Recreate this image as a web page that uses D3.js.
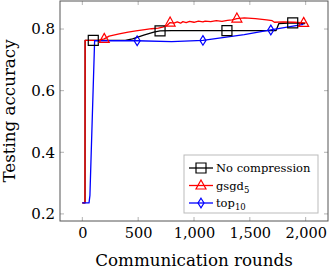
<!DOCTYPE html>
<html>
<head>
<meta charset="utf-8">
<script src="https://cdn.jsdelivr.net/npm/d3@7"></script>
<style>
  body { margin: 0; background: #fff; }
  text { font-family: "DejaVu Serif", "Liberation Serif", serif; fill: #000; }
</style>
</head>
<body>
<svg id="chart" width="332" height="271"></svg>
<script>
// rounds / accuracy
const noCompRounds = [0, 24, 25, 98, 384, 450, 550, 640, 696, 800, 1000, 1295, 1500, 1735, 1760, 1884, 1995];
const noCompAcc    = [0.236, 0.236, 0.763, 0.763, 0.763, 0.768, 0.780, 0.790, 0.794, 0.795, 0.795, 0.795, 0.795, 0.795, 0.818, 0.820, 0.818];
const noCompMarks  = [98, 696, 1295, 1884];

const gsgdRounds = [0, 24, 25, 100, 150, 196, 240, 330, 410, 480, 560, 620, 680, 720, 760, 786, 820, 850, 880, 900, 930, 960, 1000, 1040, 1080, 1100, 1150, 1200, 1250, 1300, 1340, 1384, 1450, 1550, 1650, 1700, 1720, 1800, 1900, 1982, 2000];
const gsgdAcc    = [0.236, 0.236, 0.763, 0.763, 0.764, 0.768, 0.777, 0.784, 0.790, 0.794, 0.798, 0.801, 0.803, 0.806, 0.812, 0.821, 0.819, 0.823, 0.819, 0.824, 0.821, 0.825, 0.822, 0.826, 0.823, 0.826, 0.824, 0.827, 0.825, 0.828, 0.830, 0.834, 0.836, 0.834, 0.830, 0.827, 0.822, 0.823, 0.822, 0.820, 0.820];
const gsgdMarks  = [196, 786, 1384, 1982];

const topRounds = [0, 60, 68, 110, 491, 800, 1080, 1450, 1688, 1980];
const topAcc    = [0.236, 0.236, 0.26, 0.762, 0.762, 0.759, 0.763, 0.782, 0.797, 0.815];
const topMarks  = [491, 1080, 1688];

const xTicks = [0, 500, 1000, 1500, 2000];
const yTicks = [0.2, 0.4, 0.6, 0.8];

const series = [
  { name: "No compression", rounds: noCompRounds, acc: noCompAcc, marks: noCompMarks, color: "#000000", symbol: "square" },
  { name: "gsgd", sub: "5", rounds: gsgdRounds, acc: gsgdAcc, marks: gsgdMarks, color: "#ff0000", symbol: "triangle" },
  { name: "top", sub: "10", rounds: topRounds, acc: topAcc, marks: topMarks, color: "#0000ff", symbol: "diamond" }
];

const box = { left: 60, right: 328, top: 1, bottom: 221 };

const x = d3.scaleLinear().domain([-200, 2200]).range([box.left, box.right]);
const y = d3.scaleLinear().domain([0.177, 0.891]).range([box.bottom, box.top]);

const svg = d3.select("#chart");

// tick marks (inward, mirrored on opposite sides)
const tickColor = "#a0a0a0", tl = 4;
const ticks = svg.append("g").attr("stroke", tickColor).attr("stroke-width", 0.8);
xTicks.forEach(t => {
  ticks.append("line").attr("x1", x(t)).attr("x2", x(t)).attr("y1", box.bottom).attr("y2", box.bottom - tl);
  ticks.append("line").attr("x1", x(t)).attr("x2", x(t)).attr("y1", box.top).attr("y2", box.top + tl);
});
yTicks.forEach(t => {
  ticks.append("line").attr("x1", box.left).attr("x2", box.left + tl).attr("y1", y(t)).attr("y2", y(t));
  ticks.append("line").attr("x1", box.right).attr("x2", box.right - tl).attr("y1", y(t)).attr("y2", y(t));
});

// tick labels
svg.append("g")
  .attr("transform", `translate(0,${box.bottom})`)
  .call(d3.axisBottom(x).tickValues(xTicks).tickSize(0).tickPadding(7).tickFormat(d3.format(",")))
  .call(g => g.select(".domain").remove())
  .selectAll("text")
  .style("font-family", "'DejaVu Serif', serif")
  .style("font-size", "14.5px");

svg.append("g")
  .attr("transform", `translate(${box.left},0)`)
  .call(d3.axisLeft(y).tickValues(yTicks).tickSize(0).tickPadding(5).tickFormat(d3.format(".1f")))
  .call(g => g.select(".domain").remove())
  .selectAll("text")
  .style("font-family", "'DejaVu Serif', serif")
  .style("font-size", "15px");

// plot lines
svg.append("clipPath").attr("id", "clip")
  .append("rect").attr("x", box.left).attr("y", box.top)
  .attr("width", box.right - box.left).attr("height", box.bottom - box.top);

const line = d3.line().x(d => x(d[0])).y(d => y(d[1]));

function symbolPath(sym) {
  if (sym === "square") return "M-5,-5H5V5H-5Z";
  if (sym === "triangle") return "M0,-5.5L5,3.5H-5Z";
  return "M0,-4.8L3,0L0,4.8L-3,0Z";
}

const plot = svg.append("g").attr("clip-path", "url(#clip)");
series.forEach(s => {
  const pts = s.rounds.map((r, i) => [r, s.acc[i]]);
  plot.append("path")
    .attr("d", line(pts))
    .attr("fill", "none")
    .attr("stroke", s.color)
    .attr("stroke-width", 1.3)
    .attr("stroke-linejoin", "round");
});
series.forEach(s => {
  const pts = s.rounds.map((r, i) => [r, s.acc[i]]).filter(p => s.marks.includes(p[0]));
  plot.selectAll(null)
    .data(pts)
    .join("path")
    .attr("transform", d => `translate(${x(d[0])},${y(d[1])})`)
    .attr("d", symbolPath(s.symbol))
    .attr("fill", "none")
    .attr("stroke", s.color)
    .attr("stroke-width", 1.2);
});

// axis box
svg.append("rect")
  .attr("x", box.left).attr("y", box.top)
  .attr("width", box.right - box.left).attr("height", box.bottom - box.top)
  .attr("fill", "none").attr("stroke", "#555").attr("stroke-width", 1);

// axis titles
svg.append("text")
  .attr("x", (box.left + box.right) / 2)
  .attr("y", 266)
  .attr("text-anchor", "middle")
  .style("font-size", "16.7px")
  .text("Communication rounds");

svg.append("text")
  .attr("transform", `translate(15,${(box.top + box.bottom) / 2}) rotate(-90)`)
  .attr("text-anchor", "middle")
  .style("font-size", "16.7px")
  .text("Testing accuracy");

// legend
const legend = svg.append("g").attr("transform", "translate(184,155)");
legend.append("rect")
  .attr("width", 134).attr("height", 58)
  .attr("fill", "#fff").attr("stroke", "#bbb").attr("stroke-width", 1);

const items = legend.selectAll(".legend-item")
  .data(series)
  .join("g")
  .attr("class", "legend-item")
  .attr("transform", (d, i) => `translate(0,${13 + i * 17.5})`);

items.append("line")
  .attr("x1", 5).attr("x2", 29)
  .attr("stroke", d => d.color).attr("stroke-width", 1.3);
items.append("path")
  .attr("transform", "translate(17,0)")
  .attr("d", d => symbolPath(d.symbol))
  .attr("fill", "none").attr("stroke", d => d.color).attr("stroke-width", 1.2);

const labels = items.append("text")
  .attr("x", 32).attr("y", 4)
  .style("font-size", "11.5px");
labels.append("tspan").text(d => d.name);
labels.filter(d => d.sub).append("tspan")
  .attr("dy", 3).style("font-size", "8.5px").text(d => d.sub);
</script>
</body>
</html>
